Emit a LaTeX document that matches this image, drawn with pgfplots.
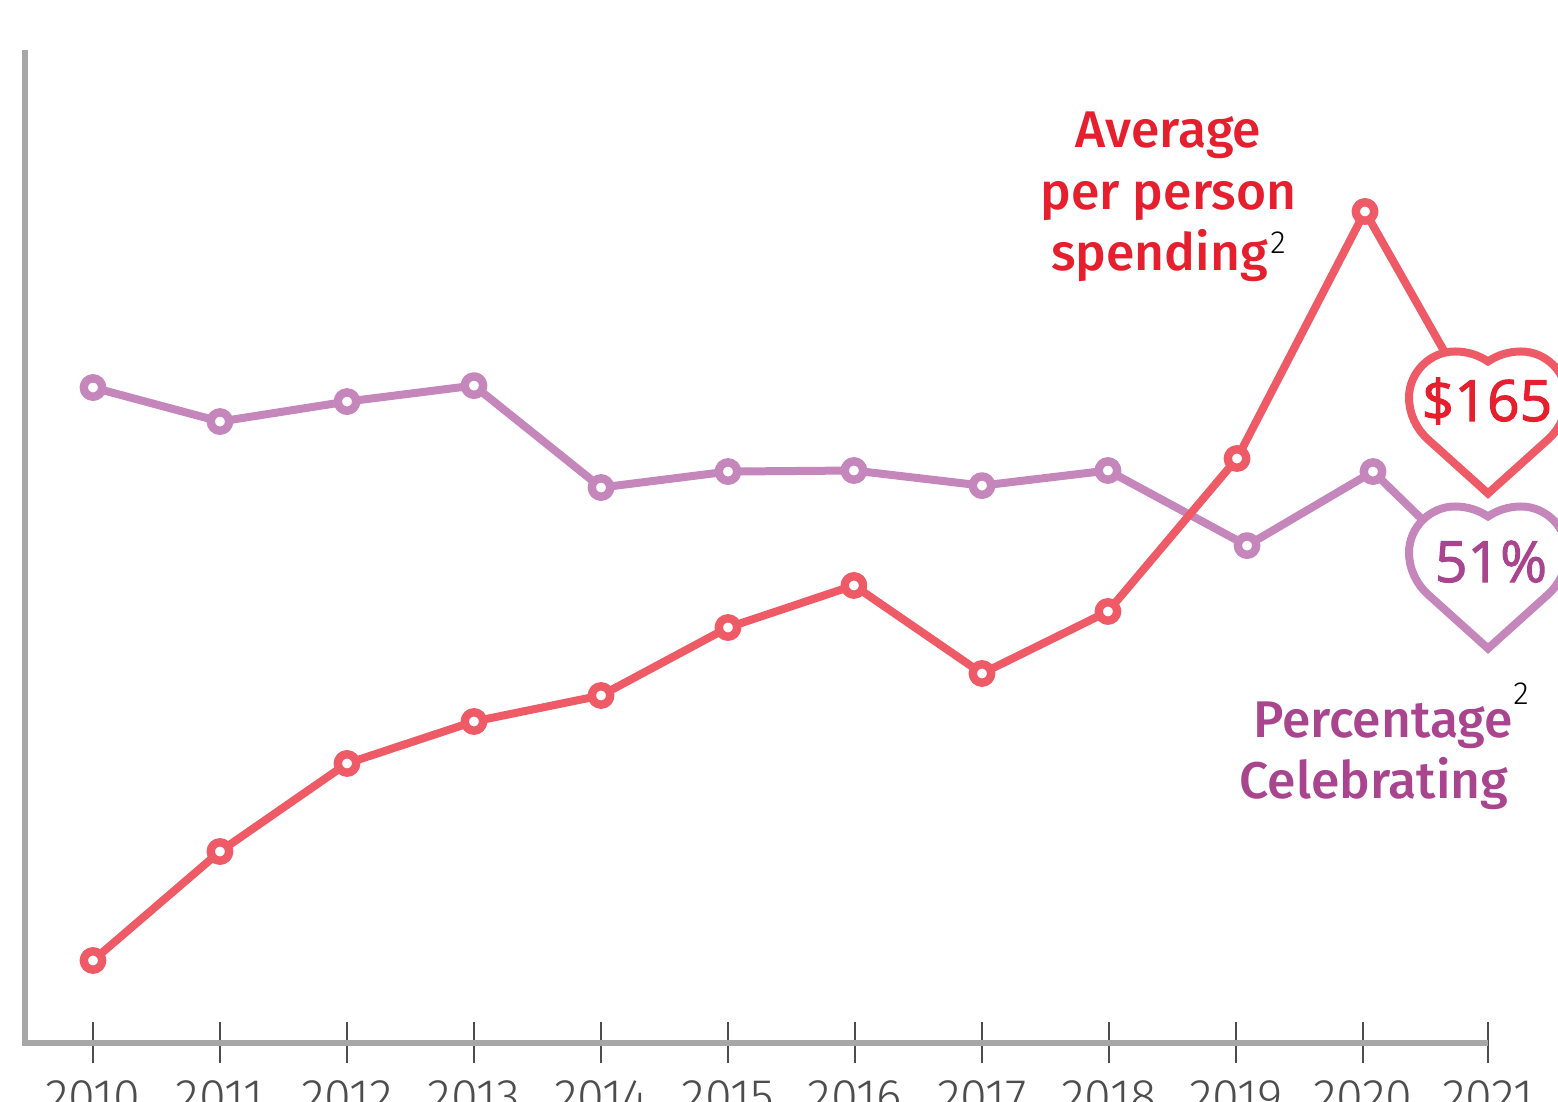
\documentclass[border=0pt]{standalone}
\usepackage{fontspec}
\usepackage{pgfplots}
\pgfplotsset{compat=1.18}
\setmainfont{Fira Sans}
\newfontfamily\labelfont{Fira Sans Medium}
\newfontfamily\tickfont{Fira Sans Light}
\newfontfamily\heartfont[FakeBold=1.8]{Open Sans}

\definecolor{spendline}{HTML}{EE5A66}
\definecolor{spendtext}{HTML}{E61F2E}
\definecolor{pctline}{HTML}{C586BB}
\definecolor{pcttext}{HTML}{A9458F}
\definecolor{axisgray}{HTML}{A7A7A7}
\definecolor{tickgray}{HTML}{4D4D4D}

% heart outline, 1 unit = 1 reference pixel, origin at the data point
\newcommand{\hp}[2]{\pgfpoint{#1*0.5pt}{#2*0.5pt}}
\pgfdeclareplotmark{heart}{%
  \pgfpathmoveto{\hp{0}{-65}}%
  \pgfpathlineto{\hp{-60}{-11}}%
  \pgfpathcurveto{\hp{-72}{0}}{\hp{-79}{15}}{\hp{-79}{31}}%
  \pgfpathcurveto{\hp{-79}{56}}{\hp{-58}{77}}{\hp{-33}{77}}%
  \pgfpathcurveto{\hp{-20}{77}}{\hp{-9}{73}}{\hp{0}{67}}%
  \pgfpathcurveto{\hp{9}{73}}{\hp{20}{77}}{\hp{33}{77}}%
  \pgfpathcurveto{\hp{58}{77}}{\hp{79}{56}}{\hp{79}{31}}%
  \pgfpathcurveto{\hp{79}{15}}{\hp{72}{0}}{\hp{60}{-11}}%
  \pgfpathclose
  \pgfusepathqfillstroke
}

\pgfplotsset{
  base/.style={
    at={(12.5pt,29.5pt)},
    anchor=south west,
    scale only axis,
    width=731.5pt,
    height=496.25pt,
    xmin=2009.4638, xmax=2021,
    clip=false,
  },
  series/.style={
    line width=4pt,
    mark=*,
    mark size=4.6pt,
    mark options={fill=white, draw=#1, line width=4.2pt, solid},
    color=#1,
    line join=round,
  },
  heartmark/.style={
    only marks,
    mark=heart,
    mark options={fill=white, draw=#1, line width=4pt, miter limit=10},
  },
}

\begin{document}
\begin{tikzpicture}
  \path[use as bounding box, clip] (0,0) rectangle (779pt,551pt);

  % percentage celebrating
  \begin{axis}[
    base,
    ymin=22.64, ymax=79.21,
    axis x line=bottom,
    axis y line=left,
    axis line style={color=axisgray, line width=2.7pt, -},
    x axis line style={shorten <=-1.35pt},
    y axis line style={shorten <=-1.35pt},
    xtick={2010,2011.001,2012.003,2013.004,2014.006,2015.007,2016.009,2017.010,2018.011,2019.013,2020.014,2021},
    xticklabels={2010,2011,2012,2013,2014,2015,2016,2017,2018,2019,2020,2021},
    ytick=\empty,
    tick align=center,
    major tick length=20.5pt,
    x tick style={color=tickgray, line width=1.3pt},
    x tick label style={font=\tickfont\fontsize{24.3}{28}\selectfont, text=tickgray, yshift=-5pt},
  ]
    \addplot[series=pctline] coordinates {
      (2010,60.00) (2011.001,58.06) (2012.003,59.20) (2013.004,60.11)
      (2014.006,54.30) (2015.007,55.21) (2016,55.27) (2017.010,54.41)
      (2018.003,55.27) (2019.100,50.99) (2020.093,55.21) (2021,48.83)
    };
    \addplot[heartmark=pctline] coordinates {(2021,48.83)};
  \end{axis}

  % average per person spending
  \begin{axis}[
    base,
    hide axis,
    ymin=92.72, ymax=216.39,
  ]
    \addplot[series=spendline] coordinates {
      (2010,103.00) (2011.001,116.58) (2012.003,127.55) (2013.004,132.78)
      (2014.006,136.02) (2015.007,144.49) (2016,149.73) (2017.010,138.76)
      (2018.003,146.49) (2019.021,165.55) (2020.030,196.33) (2021,169.29)
    };
    \addplot[heartmark=spendline] coordinates {(2021,169.29)};
  \end{axis}

  \begin{scope}[x=0.5pt, y=0.5pt]
    \begin{scope}[font=\labelfont\fontsize{25.8}{30}\selectfont, text=spendtext]
      \node[anchor=base] at (1168.5,1102-148) {Average};
      \node[anchor=base] at (1168.5,1102-210) {per person};
      \node[anchor=base] at (1159.5,1102-271) {spending};
    \end{scope}
    \begin{scope}[font=\labelfont\fontsize{25.8}{30}\selectfont, text=pcttext]
      \node[anchor=base] at (1383,1102-738) {Percentage};
      \node[anchor=base] at (1374,1102-799) {Celebrating};
    \end{scope}
    \node[anchor=base, font=\tickfont\fontsize{16}{18}\selectfont, text=black] at (1278,1102-254) {2};
    \node[anchor=base, font=\tickfont\fontsize{16}{18}\selectfont, text=black] at (1521,1102-705) {2};
    \node[anchor=base, font=\heartfont\fontsize{28.5}{34}\selectfont, text=spendtext] at (1487,1102-421) {\$165};
    \node[anchor=base, font=\heartfont\fontsize{28.5}{34}\selectfont, text=pcttext] at (1491,1102-582) {51\%};
  \end{scope}
\end{tikzpicture}
\end{document}
